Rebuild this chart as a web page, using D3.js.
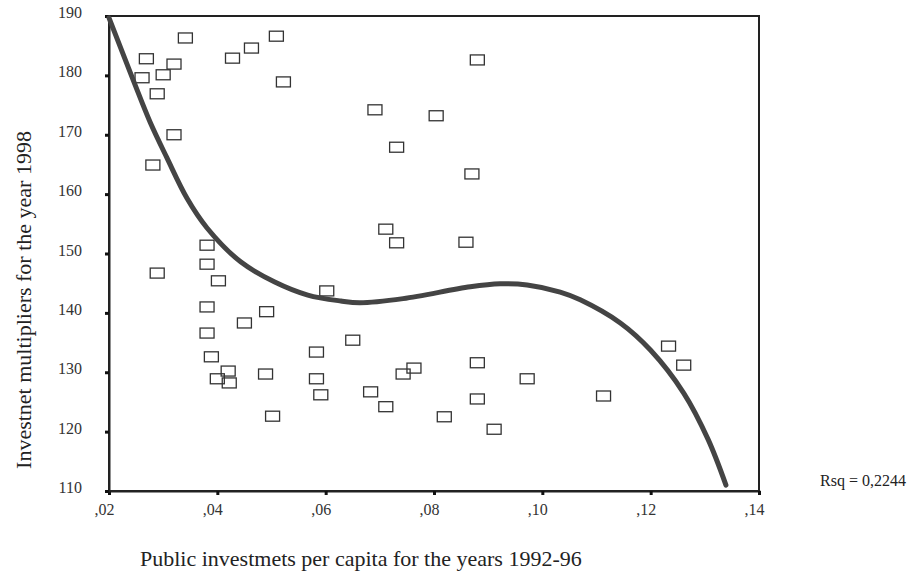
<!DOCTYPE html>
<html>
<head>
<meta charset="utf-8">
<script src="https://cdn.jsdelivr.net/npm/d3@7"></script>
<style>
  body { margin: 0; background: #fff; }
  svg { display: block; font-family: "Liberation Serif", "Times New Roman", serif; }
</style>
</head>
<body>
<div id="chart"></div>
<script>
// Scatter data: public investments per capita (x) vs investment multipliers (y)
const investX = [
  0.0341, 0.0269, 0.0320, 0.0428, 0.0463, 0.0509, 0.0261, 0.0300, 0.0522, 0.0289,
  0.0320, 0.0281, 0.0880, 0.0691, 0.0804, 0.0731, 0.0870, 0.0381, 0.0381, 0.0289,
  0.0402, 0.0602, 0.0381, 0.0491, 0.0450, 0.0381, 0.0650, 0.0583, 0.0389, 0.0420,
  0.0400, 0.0422, 0.0489, 0.0583, 0.0591, 0.0743, 0.0763, 0.0683, 0.0711, 0.0502,
  0.0711, 0.0731, 0.0859, 0.0880, 0.0972, 0.0880, 0.0819, 0.0911, 0.1233, 0.1261,
  0.1113
];
const multiplierY = [
  186.3, 182.8, 181.9, 182.9, 184.6, 186.6, 179.6, 180.1, 178.9, 176.9,
  170.0, 164.9, 182.6, 174.2, 173.2, 167.9, 163.4, 151.4, 148.2, 146.7,
  145.4, 143.7, 141.0, 140.2, 138.3, 136.6, 135.4, 133.4, 132.6, 130.2,
  128.9, 128.2, 129.7, 128.9, 126.2, 129.7, 130.7, 126.7, 124.2, 122.6,
  154.1, 151.8, 151.9, 131.6, 128.9, 125.5, 122.5, 120.4, 134.4, 131.2,
  126.0
];

// Cubic fit curve
const fitX = [0.0200, 0.0246, 0.0276, 0.0307, 0.0344, 0.0381, 0.0443, 0.0506, 0.0567,
              0.0628, 0.0663, 0.0743, 0.0867, 0.0922, 0.0972, 0.1033, 0.1070, 0.1144,
              0.1200, 0.1261, 0.1306, 0.1339];
const fitY = [189.7, 178.9, 172.1, 166.1, 159.3, 154.3, 148.6, 145.2, 143.0,
              142.0, 141.7, 142.4, 144.4, 144.9, 144.7, 143.5, 142.2, 138.3,
              133.7, 126.5, 118.7, 111.0];

const xTicks = [0.02, 0.04, 0.06, 0.08, 0.10, 0.12, 0.14];
const yTicks = [110, 120, 130, 140, 150, 160, 170, 180, 190];
const rsqLabel = "Rsq = 0,2244";

const width = 917, height = 575;
const margin = { left: 109, right: 158, top: 16, bottom: 84 };

const svg = d3.select("#chart").append("svg")
  .attr("width", width)
  .attr("height", height);

const x = d3.scaleLinear().domain([0.02, 0.14]).range([margin.left, width - margin.right]);
const y = d3.scaleLinear().domain([110, 190]).range([height - margin.bottom, margin.top]);

// frame
svg.append("rect")
  .attr("x", x(0.02)).attr("y", y(190))
  .attr("width", x(0.14) - x(0.02)).attr("height", y(110) - y(190))
  .attr("fill", "none").attr("stroke", "#222").attr("stroke-width", 2);

// axes
const fmt = d => d3.format(".2f")(d).replace("0.", ",");
const xAxis = svg.append("g")
  .attr("transform", `translate(0,${y(110)})`)
  .call(d3.axisBottom(x).tickValues(xTicks).tickFormat(fmt).tickSize(4).tickPadding(9));
const yAxis = svg.append("g")
  .attr("transform", `translate(${x(0.02)},0)`)
  .call(d3.axisLeft(y).tickValues(yTicks).tickSize(4).tickPadding(23));

[xAxis, yAxis].forEach(a => {
  a.select(".domain").attr("stroke", "#222").attr("stroke-width", 2);
  a.selectAll(".tick line").attr("stroke", "#111").attr("stroke-width", 3);
  a.selectAll(".tick text")
    .attr("fill", "#333")
    .style("font-family", "'Liberation Serif', serif")
    .style("font-size", "16px");
});
xAxis.selectAll(".tick text").attr("dx", "-5");
yAxis.selectAll(".tick text").attr("dy", "0.1em");

// points
const pts = investX.map((v, i) => ({ x: v, y: multiplierY[i] }));
svg.append("g")
  .selectAll("rect")
  .data(pts)
  .join("rect")
  .attr("x", d => x(d.x) - 7)
  .attr("y", d => y(d.y) - 5)
  .attr("width", 14)
  .attr("height", 10)
  .attr("fill", "none")
  .attr("stroke", "#333")
  .attr("stroke-width", 1.3);

// fit line
const fit = fitX.map((v, i) => [v, fitY[i]]);
svg.append("path")
  .datum(fit)
  .attr("fill", "none")
  .attr("stroke", "#444")
  .attr("stroke-width", 5)
  .attr("stroke-linecap", "round")
  .attr("d", d3.line().x(d => x(d[0])).y(d => y(d[1])).curve(d3.curveCatmullRom));

// labels
svg.append("text")
  .attr("x", 140).attr("y", 566)
  .attr("fill", "#222")
  .style("font-size", "22px")
  .text("Public investmets per capita for the years 1992-96");

svg.append("text")
  .attr("transform", "translate(31,300) rotate(-90)")
  .attr("text-anchor", "middle")
  .attr("fill", "#222")
  .style("font-size", "22px")
  .text("Investnet multipliers for the year 1998");

svg.append("text")
  .attr("x", 820).attr("y", 486)
  .attr("fill", "#222")
  .style("font-size", "16px")
  .text(rsqLabel);
</script>
</body>
</html>
